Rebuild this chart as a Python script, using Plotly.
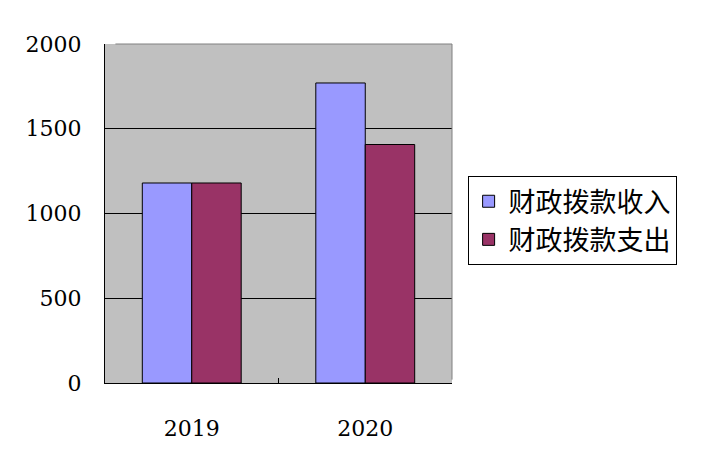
import plotly.graph_objects as go

years = ["2019", "2020"]
income = [1180, 1770]     # 财政拨款收入
expense = [1180, 1407]    # 财政拨款支出
y_ticks = [0, 500, 1000, 1500, 2000]

num_font = dict(family="DejaVu Serif", size=22, color="black")

fig = go.Figure()
fig.add_trace(go.Bar(x=years, y=income, name="财政拨款收入", legendgroup="a",
                     marker=dict(color="#9999FF", line=dict(color="black", width=1))))
fig.add_trace(go.Bar(x=years, y=expense, name="财政拨款支出", legendgroup="b",
                     marker=dict(color="#993366", line=dict(color="black", width=1))))

# page body has an 8px margin, so the figure is 8px smaller than the window
fig.update_layout(
    width=693, height=463,
    margin=dict(l=97, r=249, t=36, b=88),
    paper_bgcolor="white",
    plot_bgcolor="#C0C0C0",
    barmode="group", bargap=0.43, bargroupgap=0,
    showlegend=True,
    legend=dict(x=1.045, y=0.61, xanchor="left", yanchor="top",
                bordercolor="black", borderwidth=1, bgcolor="white",
                font=dict(family="Noto Sans CJK SC", size=27, color="black"),
                traceorder="grouped", tracegroupgap=0, itemwidth=30),
)
fig.update_xaxes(showline=True, linecolor="black", linewidth=1,
                 ticks="inside", ticklen=5, tickcolor="black",
                 tickson="boundaries", showgrid=False,
                 tickfont=num_font, ticklabelstandoff=26)
fig.update_yaxes(range=[0, 2000], tickvals=y_ticks,
                 showline=True, linecolor="black", linewidth=1,
                 ticks="inside", ticklen=5, tickcolor="black",
                 showgrid=True, gridcolor="black", gridwidth=1,
                 zeroline=False, tickfont=num_font, ticklabelstandoff=18)

# gray top and right frame of plot area
fig.add_shape(type="line", xref="paper", yref="paper", x0=0.03, x1=1, y0=1, y1=1,
              line=dict(color="#808080", width=1), layer="above")
fig.add_shape(type="line", xref="paper", yref="paper", x0=1, x1=1, y0=0.01, y1=1,
              line=dict(color="#808080", width=1), layer="above")

fig.write_html("out.html")
